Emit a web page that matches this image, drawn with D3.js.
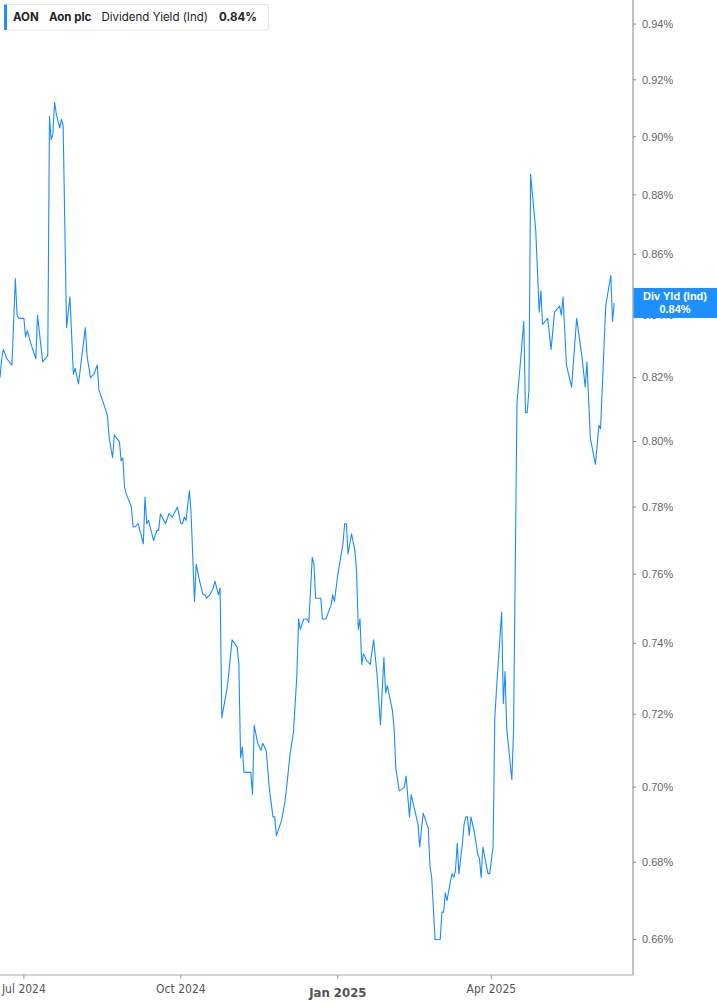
<!DOCTYPE html>
<html>
<head>
<meta charset="utf-8">
<style>
  body { margin: 0; background: #fff; }
  svg { display: block; }
  .ylab { font-family: 'Liberation Sans', Arial, sans-serif; font-size: 11px; fill: #666; }
  .xlab { font-family: 'Liberation Sans Narrow', 'DejaVu Sans Condensed', 'Arial Narrow', sans-serif; font-size: 12px; fill: #555; font-stretch: condensed; }
  .head { font-family: Inter, 'Noto Sans', sans-serif; font-size: 11.5px; fill: #222; }
</style>
</head>
<body>
<svg width="717" height="1005"></svg>

<script src="https://d3js.org/d3.v7.min.js"></script>
<script>
// dividend yield (%)
const dates = [
  "2024-06-17","2024-06-18","2024-06-19","2024-06-21","2024-06-24","2024-06-26","2024-06-27","2024-06-28",
  "2024-07-01","2024-07-02","2024-07-03","2024-07-05","2024-07-08","2024-07-09","2024-07-12","2024-07-15",
  "2024-07-16","2024-07-17","2024-07-18","2024-07-19","2024-07-20","2024-07-22","2024-07-23","2024-07-24",
  "2024-07-26","2024-07-28","2024-07-30","2024-07-31","2024-08-02","2024-08-06","2024-08-07","2024-08-09",
  "2024-08-11","2024-08-13","2024-08-14","2024-08-16","2024-08-19","2024-08-20","2024-08-22","2024-08-23",
  "2024-08-26","2024-08-27","2024-08-28","2024-08-29","2024-08-30","2024-09-02","2024-09-03","2024-09-04",
  "2024-09-06","2024-09-09","2024-09-10","2024-09-11","2024-09-12","2024-09-15","2024-09-17","2024-09-18",
  "2024-09-19","2024-09-22","2024-09-24","2024-09-26","2024-09-29","2024-10-01","2024-10-02","2024-10-03",
  "2024-10-04","2024-10-06","2024-10-07","2024-10-09","2024-10-10","2024-10-12","2024-10-14","2024-10-15",
  "2024-10-16","2024-10-18","2024-10-20","2024-10-21","2024-10-23","2024-10-24","2024-10-25","2024-10-28",
  "2024-10-29","2024-10-31","2024-11-03","2024-11-04","2024-11-05","2024-11-06","2024-11-07","2024-11-10",
  "2024-11-11","2024-11-12","2024-11-13","2024-11-15","2024-11-17","2024-11-18","2024-11-20","2024-11-22",
  "2024-11-24","2024-11-25","2024-11-26","2024-11-29","2024-12-01","2024-12-02","2024-12-04","2024-12-06",
  "2024-12-08","2024-12-09","2024-12-10","2024-12-12","2024-12-14","2024-12-15","2024-12-17","2024-12-18",
  "2024-12-19","2024-12-22","2024-12-23","2024-12-25","2024-12-28","2024-12-29","2024-12-30","2025-01-01",
  "2025-01-02","2025-01-04","2025-01-05","2025-01-06","2025-01-07","2025-01-09","2025-01-11","2025-01-12",
  "2025-01-13","2025-01-14","2025-01-15","2025-01-16","2025-01-18","2025-01-20","2025-01-22","2025-01-24",
  "2025-01-26","2025-01-28","2025-01-29","2025-01-30","2025-02-02","2025-02-03","2025-02-04","2025-02-06",
  "2025-02-09","2025-02-10","2025-02-12","2025-02-13","2025-02-17","2025-02-18","2025-02-20","2025-02-23",
  "2025-02-24","2025-02-25","2025-02-27","2025-03-02","2025-03-03","2025-03-04","2025-03-05","2025-03-06",
  "2025-03-08","2025-03-09","2025-03-10","2025-03-11","2025-03-12","2025-03-13","2025-03-15","2025-03-16",
  "2025-03-17","2025-03-18","2025-03-19","2025-03-20","2025-03-22","2025-03-24","2025-03-25","2025-03-26",
  "2025-03-27","2025-03-30","2025-03-31","2025-04-02","2025-04-03","2025-04-04","2025-04-07","2025-04-08",
  "2025-04-09","2025-04-10","2025-04-13","2025-04-14","2025-04-16","2025-04-20","2025-04-21","2025-04-22",
  "2025-04-23","2025-04-24","2025-04-27","2025-04-29","2025-04-30","2025-05-01","2025-05-04","2025-05-06",
  "2025-05-08","2025-05-11","2025-05-12","2025-05-13","2025-05-15","2025-05-18","2025-05-21","2025-05-24",
  "2025-05-26","2025-05-27","2025-05-29","2025-06-01","2025-06-03","2025-06-04","2025-06-07","2025-06-10",
  "2025-06-11","2025-06-12"
];
const values = [
  0.820,0.826,0.829,0.826,0.824,0.852,0.840,0.839,
  0.839,0.833,0.835,0.831,0.826,0.840,0.825,0.827,
  0.907,0.899,0.901,0.912,0.908,0.903,0.906,0.904,
  0.836,0.846,0.821,0.823,0.818,0.836,0.827,0.820,
  0.821,0.824,0.816,0.813,0.808,0.801,0.795,0.802,
  0.800,0.794,0.795,0.786,0.784,0.780,0.774,0.774,
  0.775,0.769,0.783,0.775,0.776,0.770,0.773,0.773,
  0.778,0.775,0.778,0.777,0.780,0.775,0.775,0.777,
  0.776,0.785,0.778,0.752,0.763,0.758,0.754,0.754,
  0.753,0.754,0.756,0.758,0.754,0.756,0.719,0.727,
  0.731,0.741,0.739,0.734,0.708,0.711,0.704,0.704,
  0.704,0.698,0.717,0.712,0.710,0.712,0.710,0.699,
  0.692,0.692,0.687,0.691,0.696,0.700,0.709,0.715,
  0.731,0.747,0.744,0.747,0.747,0.746,0.765,0.763,
  0.753,0.753,0.747,0.747,0.751,0.754,0.752,0.760,
  0.763,0.769,0.775,0.775,0.766,0.772,0.767,0.761,
  0.744,0.747,0.734,0.737,0.735,0.734,0.741,0.731,
  0.717,0.736,0.726,0.728,0.721,0.716,0.705,0.699,
  0.700,0.703,0.692,0.698,0.690,0.684,0.693,0.689,
  0.679,0.676,0.660,0.660,0.667,0.667,0.672,0.670,
  0.675,0.677,0.676,0.678,0.685,0.677,0.685,0.690,
  0.692,0.692,0.687,0.692,0.688,0.682,0.681,0.676,
  0.684,0.677,0.677,0.684,0.719,0.727,0.749,0.723,
  0.732,0.716,0.702,0.716,0.812,0.838,0.809,0.809,
  0.816,0.887,0.868,0.841,0.848,0.837,0.839,0.829,
  0.841,0.843,0.840,0.846,0.824,0.817,0.839,0.827,
  0.817,0.825,0.801,0.793,0.805,0.804,0.843,0.853,
  0.838,0.844
];

const yTicks = [0.66,0.68,0.70,0.72,0.74,0.76,0.78,0.80,0.82,0.84,0.86,0.88,0.90,0.92,0.94];
const xTicks = ["2024-07-01","2024-10-01","2025-01-01","2025-04-01"];
const xTickLabels = ["Jul 2024","Oct 2024","Jan 2025","Apr 2025"];
const ticker = "AON", company = "Aon plc", metric = "Dividend Yield (Ind)";
const tagName = "Div Yld (Ind)";

let parse = d3.utcParse("%Y-%m-%d");
let data = dates.map((d, i) => ({ date: parse(d), value: values[i] }));

let plotW = 633, plotH = 975;

let svg = d3.select("svg");

let x = d3.scaleUtc()
    .domain([parse("2024-06-17"), parse("2025-06-23")])
    .range([0, plotW]);

let y = d3.scaleLog()
    .domain([0.651, 0.9488])
    .range([plotH, 0]);

// right axis
let yAxis = svg.append("g").attr("transform", "translate(" + plotW + ",0)");
yAxis.append("line")
    .attr("x1", 0).attr("x2", 0).attr("y1", 0).attr("y2", plotH)
    .attr("stroke", "#999").attr("stroke-width", 1.2);
yAxis.selectAll(".yt")
    .data(yTicks)
    .join("g")
    .attr("transform", d => "translate(0," + y(d) + ")")
    .each(function(d) {
        let g = d3.select(this);
        g.append("line").attr("x1", 0).attr("x2", 3).attr("stroke", "#888");
        g.append("text").attr("class", "ylab").attr("x", 9).attr("dy", "0.35em")
            .text(d3.format(".2f")(d) + "%");
    });

// bottom axis
let xAxis = svg.append("g").attr("transform", "translate(0," + plotH + ")");
xAxis.append("line")
    .attr("x1", 0).attr("x2", plotW + 0.5)
    .attr("stroke", "#aaa").attr("stroke-width", 1.2);
xAxis.selectAll(".xt")
    .data(xTicks)
    .join("g")
    .attr("transform", d => "translate(" + x(parse(d)) + ",0)")
    .each(function(d, i) {
        let g = d3.select(this);
        let major = xTickLabels[i].startsWith("Jan");
        g.append("line").attr("y1", 0).attr("y2", 4).attr("stroke", "#999");
        g.append("text").attr("class", "xlab")
            .attr("text-anchor", "middle")
            .attr("y", major ? 22 : 18)
            .style("font-size", major ? "13px" : "12px")
            .style("font-weight", major ? "bold" : "normal")
            .text(xTickLabels[i]);
    });

// the series
let line = d3.line()
    .x(d => x(d.date))
    .y(d => y(d.value));

svg.append("path")
    .datum(data)
    .attr("d", line)
    .attr("fill", "none")
    .attr("stroke", "#1a8cff")
    .attr("stroke-width", 1.1)
    .attr("stroke-linejoin", "round");

// last value tag
let last = values[values.length - 1];
let tag = svg.append("g").attr("transform", "translate(" + plotW + "," + y(last) + ")");
tag.append("rect")
    .attr("x", 0.5).attr("y", -15).attr("width", 717 - plotW).attr("height", 30)
    .attr("fill", "#1e8fff");
tag.append("text")
    .attr("x", 42).attr("y", -3)
    .attr("text-anchor", "middle")
    .style("font-family", "'Liberation Sans', Arial, sans-serif")
    .style("font-size", "11px").style("font-weight", "bold").attr("fill", "#fff")
    .text(tagName);
tag.append("text")
    .attr("x", 42).attr("y", 10)
    .attr("text-anchor", "middle")
    .style("font-family", "'Liberation Sans', Arial, sans-serif")
    .style("font-size", "11px").style("font-weight", "bold").attr("fill", "#fff")
    .text(d3.format(".2f")(last) + "%");

// header box
let head = svg.append("g");
head.append("rect")
    .attr("x", 4.5).attr("y", 4.5).attr("width", 264).attr("height", 25.5)
    .attr("rx", 2).attr("fill", "#fff").attr("stroke", "#e3e3e3");
head.append("rect")
    .attr("x", 4).attr("y", 4.5).attr("width", 3).attr("height", 25.5)
    .attr("fill", "#1e8fff");
let headText = [
    { t: ticker, x: 13, bold: true },
    { t: company, x: 49, bold: true },
    { t: metric, x: 101.5, bold: false },
    { t: d3.format(".2f")(last) + "%", x: 219, bold: true }
];
head.selectAll(".head")
    .data(headText)
    .join("text")
    .attr("class", "head")
    .attr("x", d => d.x).attr("y", 21)
    .style("font-weight", d => d.bold ? "bold" : "normal")
    .text(d => d.t);
</script>
</body>
</html>
